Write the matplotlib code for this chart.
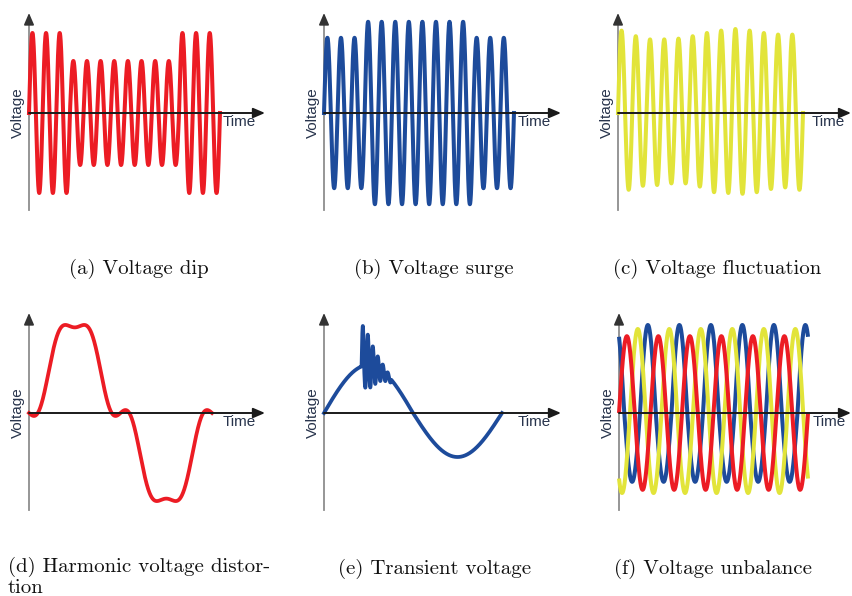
import numpy as np
import matplotlib
matplotlib.use("Agg")
import matplotlib.pyplot as plt

W, H = 852, 596
PX_PER_PU = 80  # pixels per per-unit voltage

RED = "#ec1c24"
BLUE = "#1d4b9b"
YELLOW = "#e2e43a"
LABEL = "#28344c"

# (a) voltage dip: amplitude of each cycle (p.u.)
dip_amps = [1.0, 1.0, 1.0, 0.65, 0.65, 0.65, 0.65, 0.65, 0.65, 0.65, 0.65, 1.0, 1.0, 1.0]
# (b) voltage surge
surge_amps = [0.94, 0.94, 0.94, 1.14, 1.14, 1.14, 1.14, 1.14, 1.14, 1.14, 1.14, 0.94, 0.94, 0.94]
# (c) voltage fluctuation: positive / negative peak of each cycle
fluct_pos = [1.03, 0.96, 0.92, 0.92, 0.93, 0.96, 1.0, 1.03, 1.05, 1.03, 1.0, 0.98, 0.98]
fluct_neg = [0.96, 0.91, 0.9, 0.88, 0.88, 0.92, 0.99, 1.0, 1.01, 0.99, 0.95, 0.93, 0.96]
# (d) harmonic distortion: amplitudes of 1st, 3rd, 5th harmonics
harm_orders = [1, 3, 5]
harm_amps = [1.04, -0.19, -0.16]
# (e) transient: base sine halves and ringing half-wave magnitudes
trans_pos, trans_neg = 0.6, 0.55
ring_start = 0.211          # cycles
ring_half = 0.014           # cycles
ring_amps = [0.5, 0.28, 0.38, 0.28, 0.24, 0.22, 0.14, 0.15, 0.08, 0.10, 0.04, 0.05]
# (f) unbalance: phase angle (deg), positive and negative peaks
phase_names = ["blue", "yellow", "red"]
phase_colors = [BLUE, YELLOW, RED]
phase_deg = [120, -125, 0]
phase_pos = [1.10, 1.05, 0.96]
phase_neg = [0.86, 1.0, 0.96]
unb_cycles = 6

captions = ["(a) Voltage dip", "(b) Voltage surge", "(c) Voltage fluctuation",
            "(d) Harmonic voltage distor-\ntion", "(e) Transient voltage", "(f) Voltage unbalance"]

fig = plt.figure(figsize=(W / 100, H / 100), dpi=100)


def panel(ox, oy, x_tip, px_per_cycle):
    top, bottom = oy - 100, oy + 97
    ax = fig.add_axes([ox / W, 1 - bottom / H, (x_tip - ox) / W, (bottom - top) / H])
    xmax = (x_tip - ox) / px_per_cycle
    ymin, ymax = -(bottom - oy) / PX_PER_PU, (oy - top) / PX_PER_PU
    ax.set_xlim(0, xmax)
    ax.set_ylim(ymin, ymax)
    ax.axis("off")
    # y axis (grey) with dark head
    ax.plot([0, 0], [ymin, ymax - 0.1], color="#8e8e8e", lw=1.3, clip_on=False, zorder=1)
    ax.annotate("", xy=(0, ymax), xytext=(0, ymax - 0.13),
                arrowprops=dict(arrowstyle="-|>,head_length=7,head_width=3", mutation_scale=1,
                                color="#333333", lw=1.2, shrinkA=0, shrinkB=0), zorder=5)
    # x axis (black) drawn over the waveform
    ax.annotate("", xy=(xmax, 0), xytext=(0, 0),
                arrowprops=dict(arrowstyle="-|>,head_length=7,head_width=3", mutation_scale=1,
                                color="#1a1a1a", lw=1.4, shrinkA=0, shrinkB=0), zorder=5)
    fig.text((ox + 194) / W, 1 - (oy + 9) / H, "Time", ha="left", va="center",
             fontsize=11, family="Liberation Sans", color=LABEL)
    fig.text((ox - 11) / W, 1 - oy / H, "Voltage", ha="center", va="center", rotation=90,
             fontsize=11, family="Liberation Sans", color=LABEL)
    return ax


def cycle_wave(pos, neg, phase=0.0, n=None):
    n = len(pos) if n is None else n
    t = np.linspace(0, n, 6000)
    k = np.minimum(t.astype(int), len(pos) - 1)
    s = np.sin(2 * np.pi * t + phase)
    amp = np.where(s >= 0, np.asarray(pos)[k], np.asarray(neg)[k])
    return t, s * amp


# (a)
ax = panel(29, 113, 265, 13.64)
t, v = cycle_wave(dip_amps, dip_amps)
ax.plot(t, v, color=RED, lw=2.9, clip_on=False, zorder=2)

# (b)
ax = panel(324, 113, 561, 13.57)
t, v = cycle_wave(surge_amps, surge_amps)
ax.plot(t, v, color=BLUE, lw=2.9, clip_on=False, zorder=2)

# (c)
ax = panel(618, 113, 851, 14.23)
t, v = cycle_wave(fluct_pos, fluct_neg)
ax.plot(t, v, color=YELLOW, lw=2.9, clip_on=False, zorder=2)

# (d)
ax = panel(29, 413, 265, 183)
t = np.linspace(0, 1, 2000)
v = sum(a * np.sin(2 * np.pi * h * t) for h, a in zip(harm_orders, harm_amps))
ax.plot(t, v, color=RED, lw=2.7, clip_on=False, zorder=2)

# (e)
ax = panel(324, 413, 561, 178)
t = np.linspace(0, 1, 8000)
s = np.sin(2 * np.pi * t)
v = s * np.where(s >= 0, trans_pos, trans_neg)
r = (t - ring_start) / ring_half
inside = (r >= 0) & (r < len(ring_amps))
idx = np.clip(r.astype(int), 0, len(ring_amps) - 1)
v = v + np.where(inside, np.asarray(ring_amps)[idx] * np.sin(np.pi * r), 0)
ax.plot(t, v, color=BLUE, lw=2.7, clip_on=False, zorder=2)

# (f)
ax = panel(619, 413, 851, 31.5)
for name, col, ph, p, n in zip(phase_names, phase_colors, phase_deg, phase_pos, phase_neg):
    t, v = cycle_wave([p] * unb_cycles, [n] * unb_cycles, np.deg2rad(ph))
    ax.plot(t, v, color=col, lw=2.9, clip_on=False, zorder=2, solid_capstyle="butt")

# captions
cap_font = dict(family="cmr10", fontsize=15, color="#111111")
fig.text(138.5 / W, 1 - 274 / H, captions[0], ha="center", va="baseline", **cap_font)
fig.text(434 / W, 1 - 274 / H, captions[1], ha="center", va="baseline", **cap_font)
fig.text(717 / W, 1 - 274 / H, captions[2], ha="center", va="baseline", **cap_font)
fig.text(8 / W, 1 - 572 / H, captions[3].split("\n")[0], ha="left", va="baseline", **cap_font)
fig.text(8 / W, 1 - 593 / H, captions[3].split("\n")[1], ha="left", va="baseline", **cap_font)
fig.text(435 / W, 1 - 574 / H, captions[4], ha="center", va="baseline", **cap_font)
fig.text(713.5 / W, 1 - 574 / H, captions[5], ha="center", va="baseline", **cap_font)

fig.savefig("out.png", dpi=100)
